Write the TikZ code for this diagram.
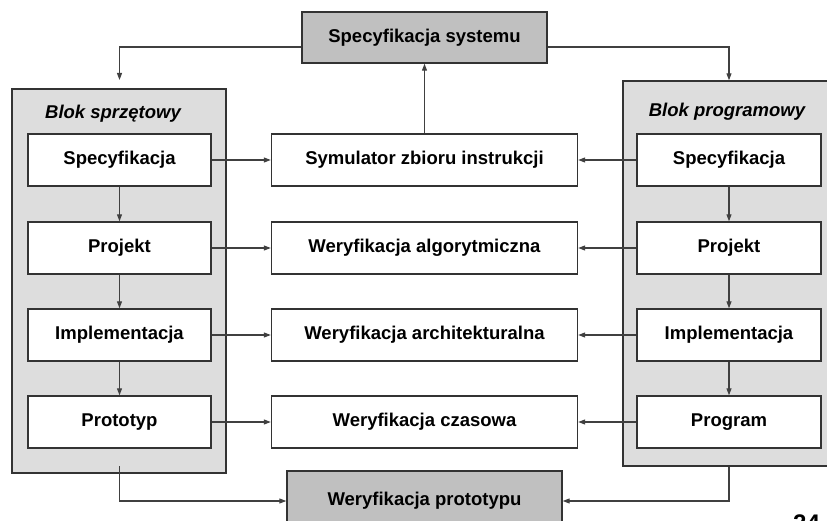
\documentclass[tikz,border=0pt]{standalone}
\usepackage{fontspec}
\setmainfont{Liberation Sans}
\usetikzlibrary{arrows.meta,positioning}
\definecolor{boxline}{HTML}{333333}
\definecolor{wireline}{HTML}{404040}
\definecolor{darkfill}{HTML}{C0C0C0}
\definecolor{lightfill}{HTML}{DDDDDD}
\tikzset{
  box/.style={draw=boxline, line width=1.4pt, fill=white, minimum height=52pt,
    inner sep=0pt, font=\fontsize{18.5}{20}\selectfont\bfseries},
  mainbox/.style={box, fill=darkfill},
  blockbox/.style={draw=boxline, line width=1.4pt, fill=lightfill, inner sep=0pt},
  blocktitle/.style={font=\fontsize{18.5}{20}\selectfont\bfseries\itshape, inner sep=0pt},
  wire/.style={draw=wireline, line width=1.1pt, -{Triangle[length=7pt,width=5pt]}},
}
\begin{document}
\begin{tikzpicture}[x=1pt, y=-1pt]
\useasboundingbox (0,0) rectangle (827,521);

% hardware and software blocks
\node[blockbox, minimum width=214pt, minimum height=384pt] (lblk) at (119,281) {};
\node[blockbox, minimum width=217pt, minimum height=385pt] (rblk) at (731.5,273.5) {};
\node[blocktitle] (ltitle) at (113,114) {Blok sprzętowy};
\node[blocktitle] (rtitle) at (727,112) {Blok programowy};

% system level boxes
\node[mainbox, minimum width=245pt, minimum height=51pt] (top) at (424.5,37.5) {Specyfikacja systemu};
\node[mainbox, minimum width=275pt, minimum height=60pt] (bot) at (424.5,501) {Weryfikacja prototypu};

% hardware flow
\node[box, minimum width=183pt] (lsp) at (119.5,160) {Specyfikacja};
\node[box, minimum width=183pt] (lpr) at (119.5,248) {Projekt};
\node[box, minimum width=183pt] (lim) at (119.5,335) {Implementacja};
\node[box, minimum width=183pt] (lpt) at (119.5,422) {Prototyp};

% verification steps
\node[box, minimum width=306pt] (sym) at (424.5,160) {Symulator zbioru instrukcji};
\node[box, minimum width=306pt] (alg) at (424.5,248) {Weryfikacja algorytmiczna};
\node[box, minimum width=306pt] (arc) at (424.5,335) {Weryfikacja architekturalna};
\node[box, minimum width=306pt] (cza) at (424.5,422) {Weryfikacja czasowa};

% software flow
\node[box, minimum width=184pt] (rsp) at (729,160) {Specyfikacja};
\node[box, minimum width=184pt] (rpr) at (729,248) {Projekt};
\node[box, minimum width=184pt] (rim) at (729,335) {Implementacja};
\node[box, minimum width=184pt] (rpg) at (729,422) {Program};

% page number
\node[anchor=north west, inner sep=0pt, font=\fontsize{24}{24}\selectfont\bfseries] (pg) at (793,515) {24};

% connectors
\coordinate (lin) at (119.5,80);
\coordinate (lout) at (119.5,466);
\draw[wire] ([yshift=-9.5pt]top.west) -| (lin);
\draw[wire] ([yshift=-9.5pt]top.east) -| (rsp.north |- rblk.north);
\draw[wire] (sym.north) -- (top.south);

\draw[wire] (lsp) -- (lpr);
\draw[wire] (lpr) -- (lim);
\draw[wire] (lim) -- (lpt);
\draw[wire] (rsp) -- (rpr);
\draw[wire] (rpr) -- (rim);
\draw[wire] (rim) -- (rpg);

\draw[wire] (lsp) -- (sym);
\draw[wire] (lpr) -- (alg);
\draw[wire] (lim) -- (arc);
\draw[wire] (lpt) -- (cza);
\draw[wire] (rsp) -- (sym);
\draw[wire] (rpr) -- (alg);
\draw[wire] (rim) -- (arc);
\draw[wire] (rpg) -- (cza);

\draw[wire] (lout) |- (bot.west);
\draw[wire] (rsp.south |- rblk.south) |- (bot.east);
\end{tikzpicture}
\end{document}
